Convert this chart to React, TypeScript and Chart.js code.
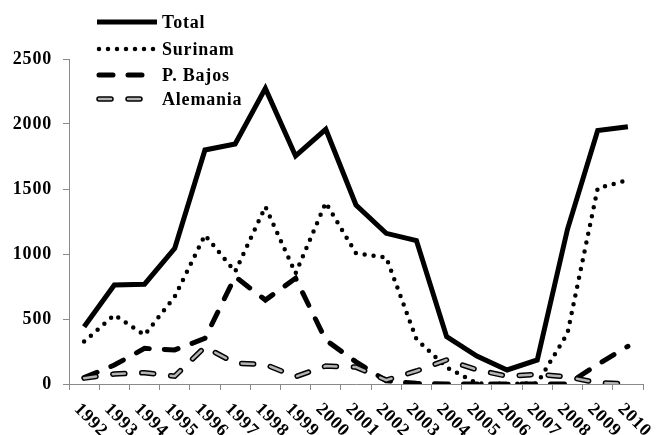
import React, { useEffect, useRef } from "react";
import { Chart, registerables } from "chart.js";

Chart.register(...registerables);

// ---------- data ----------
const years = [
  "1992", "1993", "1994", "1995", "1996", "1997", "1998", "1999", "2000", "2001",
  "2002", "2003", "2004", "2005", "2006", "2007", "2008", "2009", "2010",
];
const total = [441, 762, 768, 1044, 1800, 1846, 2274, 1754, 1959, 1377, 1159, 1103, 364, 215, 108, 185, 1190, 1949, 1979];
const surinam = [326, 531, 377, 672, 1146, 864, 1364, 851, 1395, 1005, 974, 345, 128, 5, 0, 5, 390, 1505, 1569];
const pBajos = [49, 146, 274, 262, 351, 826, 646, 813, 338, 170, 25, 5, 0, 0, 0, 0, 0, 150, 290];
const alemania = [45, 77, 87, 60, 285, 160, 150, 56, 138, 130, 30, 100, 185, 110, 60, 75, 55, 10, 0];
const seriesNames = ["Total", "Surinam", "P. Bajos", "Alemania"];
const yMin = 0;
const yMax = 2500;
const yStep = 500;

// ---------- styles ----------
const FONT = '"Liberation Serif", "Times New Roman", serif';
const AXIS_GRAY = "#8a8a8a";
const ALEMANIA_GRAY = "#b4b4b4";

type LineStyle = { color: string; width: number; dash: number[]; cap: CanvasLineCap };
const sTotal: LineStyle = { color: "#000", width: 5, dash: [], cap: "butt" };
const sSurinam: LineStyle = { color: "#000", width: 4.5, dash: [0, 9], cap: "round" };
const sBajos: LineStyle = { color: "#000", width: 5, dash: [14, 15], cap: "round" };
const sAlemOuter: LineStyle = { color: "#000", width: 5.5, dash: [12, 17], cap: "round" };
const sAlemInner: LineStyle = { color: ALEMANIA_GRAY, width: 2.5, dash: [12, 17], cap: "round" };

const legendItems: { name: string; styles: LineStyle[] }[] = [
  { name: seriesNames[0], styles: [sTotal] },
  { name: seriesNames[1], styles: [sSurinam] },
  { name: seriesNames[2], styles: [sBajos] },
  { name: seriesNames[3], styles: [sAlemOuter, sAlemInner] },
];

const ds = (label: string, data: number[], s: LineStyle) => ({
  label,
  data,
  borderColor: s.color,
  backgroundColor: s.color,
  borderWidth: s.width,
  borderDash: s.dash,
  borderCapStyle: s.cap,
  borderJoinStyle: "miter" as CanvasLineJoin,
  pointRadius: 0,
  pointHoverRadius: 0,
  tension: 0,
  fill: false,
});

const textSpacingPlugin = {
  id: "textSpacing",
  beforeDraw(chart: any) {
    (chart.ctx as any).letterSpacing = "0.8px";
  },
};

const customTextPlugin = {
  id: "customText",
  afterDraw(chart: any) {
    const ctx: CanvasRenderingContext2D = chart.ctx;
    // legend
    ctx.save();
    (ctx as any).letterSpacing = "0.8px";
    const x0 = 99;
    const x1 = 155;
    const ys = [22, 49, 75, 99];
    legendItems.forEach((it, i) => {
      const y = ys[i];
      it.styles.forEach((s) => {
        ctx.beginPath();
        ctx.strokeStyle = s.color;
        ctx.lineWidth = s.width;
        ctx.lineCap = s.cap;
        ctx.setLineDash(s.dash);
        ctx.moveTo(s.cap === "butt" ? 97 : x0, y);
        ctx.lineTo(s.cap === "butt" ? 157 : x1, y);
        ctx.stroke();
      });
      ctx.setLineDash([]);
      ctx.fillStyle = "#000";
      ctx.font = `bold 18px ${FONT}`;
      ctx.textAlign = "left";
      ctx.textBaseline = "alphabetic";
      ctx.fillText(it.name, 162, y + 6);
    });
    ctx.restore();

    // rotated x labels
    const xs = chart.scales.x;
    ctx.save();
    (ctx as any).letterSpacing = "0.8px";
    ctx.fillStyle = "#000";
    ctx.font = `bold 18px ${FONT}`;
    ctx.textAlign = "left";
    ctx.textBaseline = "top";
    years.forEach((label, i) => {
      const px = xs.getPixelForValue(i);
      ctx.save();
      ctx.translate(px - 1, xs.top + 16);
      ctx.rotate(Math.PI / 4);
      ctx.fillText(label, 0, 0);
      ctx.restore();
    });
    ctx.restore();
  },
};

export default function App() {
  const ref = useRef<HTMLCanvasElement | null>(null);

  useEffect(() => {
    if (!ref.current) return;
    const chart = new Chart(ref.current, {
      type: "line",
      data: {
        labels: years,
        datasets: [
          ds(seriesNames[3], alemania, sAlemInner),
          ds(seriesNames[3], alemania, sAlemOuter),
          ds(seriesNames[2], pBajos, sBajos),
          ds(seriesNames[1], surinam, sSurinam),
          ds(seriesNames[0], total, sTotal),
        ],
      },
      options: {
        animation: false,
        responsive: true,
        maintainAspectRatio: false,
        layout: { padding: { left: 0, top: 59, right: 14, bottom: 0 } },
        plugins: {
          legend: { display: false },
          tooltip: { enabled: false },
        },
        scales: {
          x: {
            type: "category",
            offset: true,
            grid: {
              display: true,
              offset: true,
              drawOnChartArea: false,
              drawTicks: true,
              tickLength: 6,
              color: AXIS_GRAY,
            },
            border: { display: true, color: AXIS_GRAY, width: 1 },
            ticks: { display: false },
            afterFit: (scale: any) => {
              scale.height = 51;
            },
          },
          y: {
            min: yMin,
            max: yMax,
            grid: {
              display: true,
              drawOnChartArea: false,
              drawTicks: true,
              tickLength: 6,
              color: AXIS_GRAY,
            },
            border: { display: true, color: AXIS_GRAY, width: 1 },
            ticks: {
              stepSize: yStep,
              padding: 11,
              color: "#000",
              font: { family: FONT, size: 18, weight: "bold" },
              callback: (v: any) => String(v),
            },
            afterFit: (scale: any) => {
              scale.width = 69;
            },
          },
        },
      },
      plugins: [textSpacingPlugin, customTextPlugin],
    });
    return () => chart.destroy();
  }, []);

  return (
    <div style={{ position: "absolute", left: 0, top: 0, width: 657, height: 435, background: "#fff" }}>
      <canvas ref={ref} />
    </div>
  );
}
